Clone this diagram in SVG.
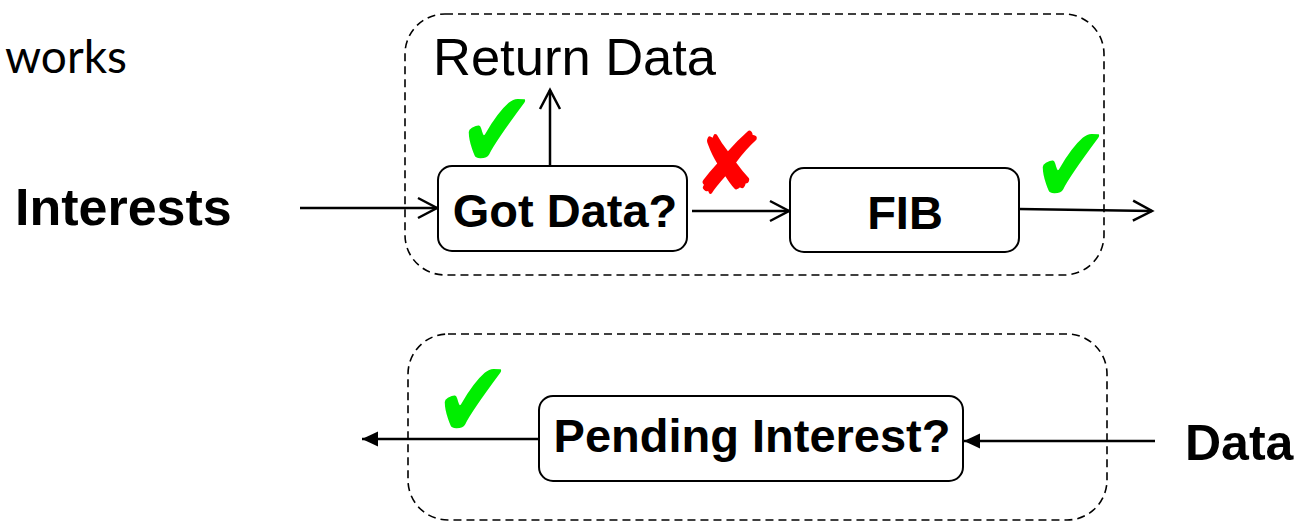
<svg xmlns="http://www.w3.org/2000/svg" width="1297" height="521" viewBox="0 0 1297 521">
  <style>
    .group { fill: none; stroke: #000; stroke-width: 1.6; stroke-dasharray: 8 5; }
    .box { fill: #fff; stroke: #000; stroke-width: 2; }
    .label { font-family: "Liberation Sans", Arial, sans-serif; font-weight: bold; fill: #000; }
    .plain { font-family: "Liberation Sans", Arial, sans-serif; fill: #000; }
    .edge { fill: none; stroke: #000; stroke-width: 2.5; }
    .ok { font-family: "DejaVu Sans", sans-serif; font-size: 95px; fill: #00ee00; }
    .no { font-family: "DejaVu Sans", sans-serif; fill: #ff0000; }
  </style>
  <defs>
    <marker id="open" markerUnits="userSpaceOnUse" markerWidth="24" markerHeight="24" viewBox="-21 -12 24 24" refX="0" refY="0" orient="auto">
      <path d="M-19,-10 L0,0 L-19,10" fill="none" stroke="#000" stroke-width="2.5"/>
    </marker>
    <marker id="solid" markerUnits="userSpaceOnUse" markerWidth="20" markerHeight="20" viewBox="-17 -9 20 18" refX="0" refY="0" orient="auto">
      <path d="M-16,-7.5 L0,0 L-16,7.5 Z" fill="#000"/>
    </marker>
  </defs>

  <!-- slide title fragment -->
  <text x="127" y="73" text-anchor="end" font-family="Lato, 'Open Sans', sans-serif" font-size="46" fill="#000">works</text>

  <!-- dashed stage outlines -->
  <rect id="interest-stage" class="group" x="405" y="14" width="699" height="261" rx="40" ry="40"/>
  <rect id="data-stage" class="group" x="408" y="334" width="699" height="186" rx="40" ry="40"/>

  <g id="connectors">
    <line class="edge" x1="300" y1="208" x2="437" y2="208" marker-end="url(#open)"/>
    <line class="edge" x1="550" y1="166" x2="550" y2="90" marker-end="url(#open)"/>
    <line class="edge" x1="692" y1="211" x2="789" y2="211" marker-end="url(#open)"/>
    <line class="edge" x1="1019" y1="209" x2="1152" y2="211" marker-end="url(#open)"/>
    <line class="edge" x1="539" y1="439" x2="362" y2="439" marker-end="url(#solid)"/>
    <line class="edge" x1="1155" y1="441" x2="964" y2="441" marker-end="url(#solid)"/>
  </g>

  <g id="interests">
    <text class="label" x="15" y="225" font-size="52">Interests</text>
  </g>

  <g id="return-data">
    <text class="plain" x="433" y="75" font-size="52.5">Return Data</text>
  </g>

  <g id="got-data">
    <rect class="box" x="438" y="166" width="249" height="85" rx="14" ry="14"/>
    <text class="label" x="565" y="227" font-size="47" text-anchor="middle">Got Data?</text>
  </g>

  <g id="fib">
    <rect class="box" x="790" y="168" width="229" height="84" rx="14" ry="14"/>
    <text class="label" x="905" y="229" font-size="47" text-anchor="middle">FIB</text>
  </g>

  <g id="pending-interest">
    <rect class="box" x="539" y="396" width="424" height="85" rx="14" ry="14"/>
    <text class="label" x="752" y="452" font-size="47" text-anchor="middle">Pending Interest?</text>
  </g>

  <g id="data">
    <text class="label" x="1185" y="460" font-size="50">Data</text>
  </g>

  <g id="marks">
    <text class="ok" transform="translate(458,168) scale(0.98,1.15)">✔</text>
    <text class="no" x="692" y="194" font-size="86">✘</text>
    <text class="ok" transform="translate(1032,203) scale(0.98,1.15)">✔</text>
    <text class="ok" transform="translate(434,438) scale(0.98,1.15)">✔</text>
  </g>
</svg>
